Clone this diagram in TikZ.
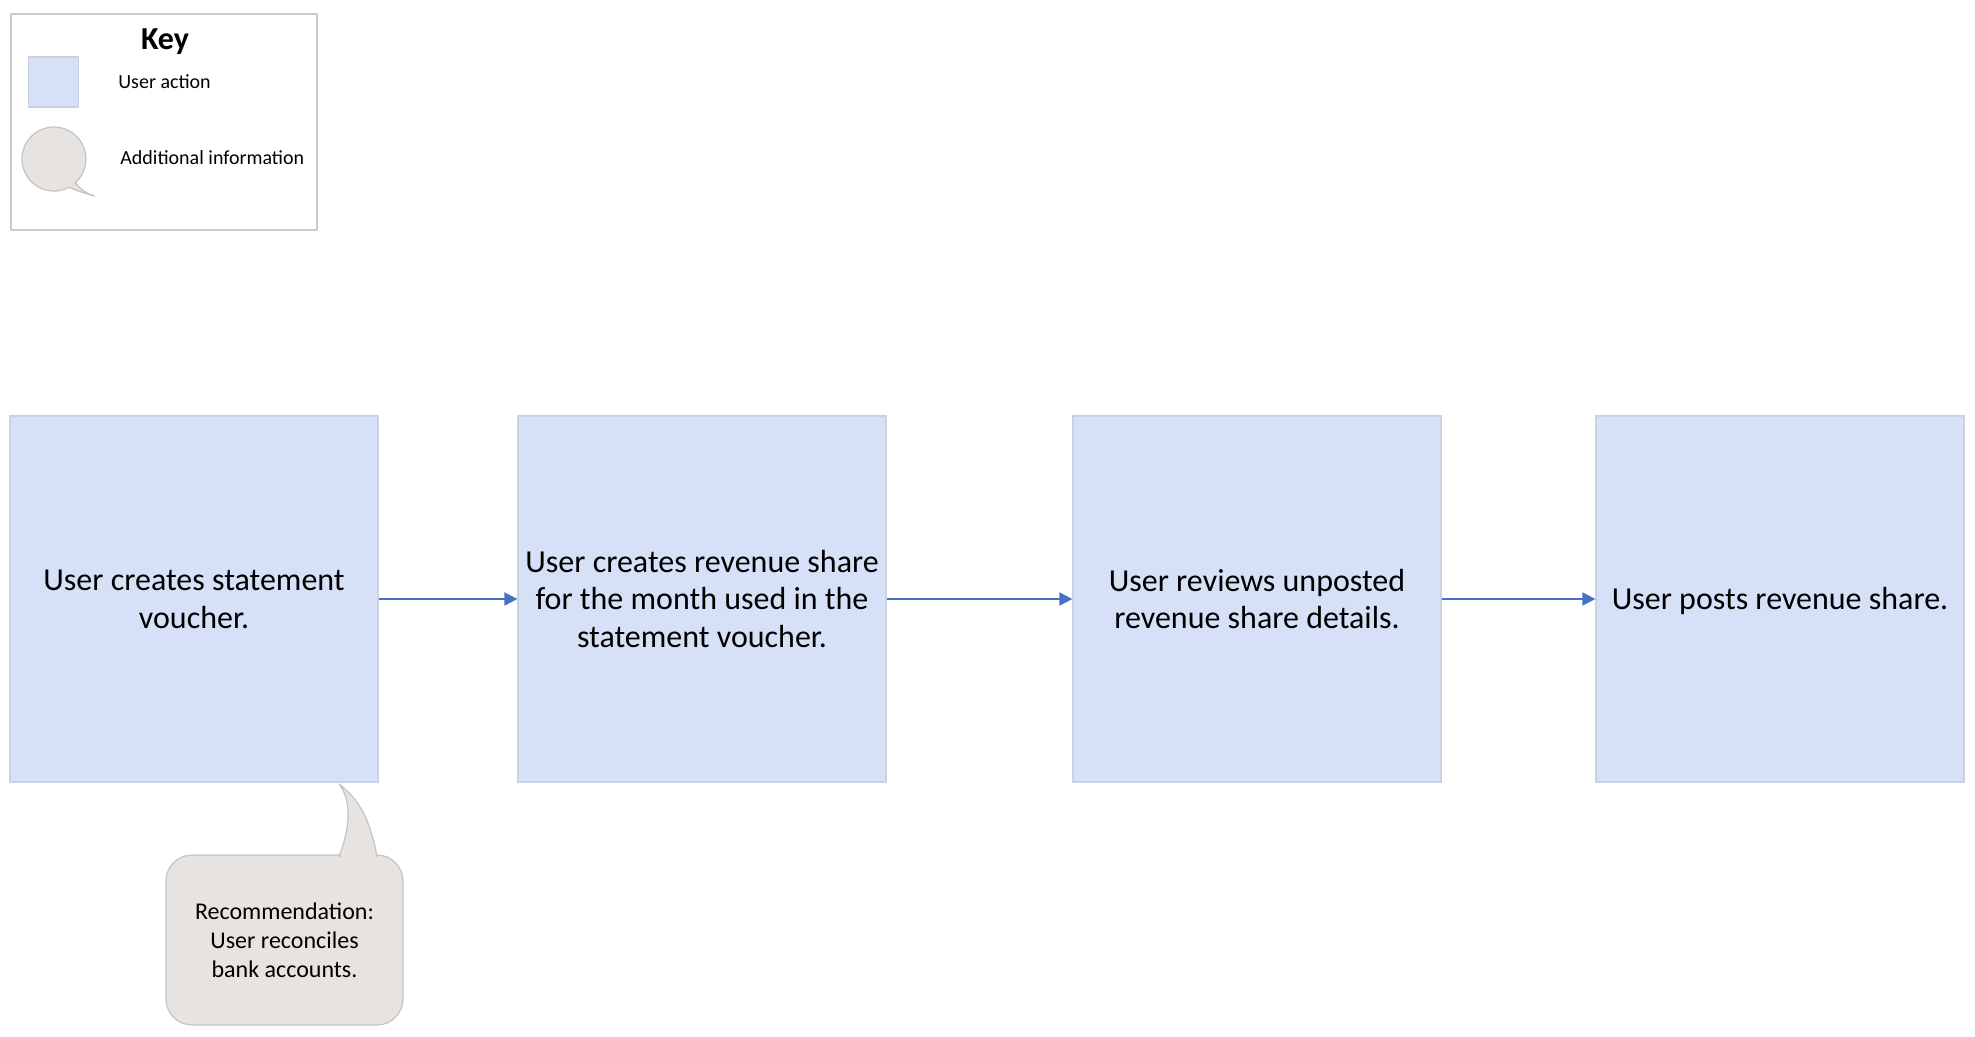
\documentclass[tikz,border=0pt]{standalone}
\usepackage{fontspec}
\setmainfont{Carlito}
\usetikzlibrary{arrows.meta}
\definecolor{actfill}{HTML}{D6E1F7}
\definecolor{actdraw}{HTML}{C9D2E0}
\definecolor{infofill}{HTML}{E6E3E1}
\definecolor{infodraw}{HTML}{C4C4C4}
\definecolor{flow}{HTML}{4472C4}
\definecolor{keydraw}{HTML}{CCCCCC}
\tikzset{
  action/.style={draw=actdraw, fill=actfill, line width=0.6pt, minimum width=184pt, minimum height=183pt, inner sep=0pt, align=center, font=\fontsize{16}{18.9}\selectfont},
  info/.style={draw=infodraw, fill=infofill, line width=0.6pt, rounded corners=13pt, minimum width=118.5pt, minimum height=85pt, align=center, inner sep=0pt, font=\fontsize{12}{14.5}\selectfont},
  flowarrow/.style={draw=flow, line width=0.8pt, -{Triangle[length=6.5pt,width=6.5pt]}},
  legtext/.style={anchor=west, inner sep=0pt, font=\fontsize{10}{12}\selectfont}
}
\begin{document}
\begin{tikzpicture}[x=0.5pt,y=-0.5pt]
\useasboundingbox (0,0) rectangle (1975,1037);
% key
\node[draw=keydraw, line width=0.6pt, minimum width=153pt, minimum height=108pt, inner sep=0pt] (key) at (164,122) {};
\node[font=\fontsize{16}{18}\selectfont\bfseries, inner sep=0pt] (keytitle) at (165,42) {Key};
\node[draw=actdraw, fill=actfill, line width=0.6pt, minimum width=25pt, minimum height=25pt, inner sep=0pt] (legact) at (53.5,82) {};
\node[legtext] (legacttext) at (118,82) {User action};
\path[draw=infodraw, fill=infofill, line width=0.6pt]
  (75.4,182.8) .. controls (81,190) and (87,194) .. (95,196)
  .. controls (87,194) and (77,191) .. (69,187.3)
  arc[start angle=62, end angle=408, radius=32] -- cycle;
\node[legtext] (leginfotext) at (120,158) {Additional information};
% flow
\node[action] (a1) at (194,599) {User creates statement\\voucher.};
\node[action] (a2) at (702,599) {User creates revenue share\\for the month used in the\\statement voucher.};
\node[action] (a3) at (1257,599) {User reviews unposted\\revenue share details.};
\node[action] (a4) at (1780,599) {\raisebox{-1pt}[\height][\depth]{User posts revenue share.}};
\draw[flowarrow] (a1.east) -- (a2.west);
\draw[flowarrow] (a2.east) -- (a3.west);
\draw[flowarrow] (a3.east) -- (a4.west);
% callout
\node[info] (rec) at (284.5,940) {\raisebox{-1.5pt}[\height][\depth]{\begin{tabular}{@{}c@{}}Recommendation:\\User reconciles\\bank accounts.\end{tabular}}};
\coordinate (tip) at (339,784);
\path[draw=infodraw, fill=infofill, line width=0.6pt]
  (tip) .. controls (352,800) and (350,830) .. (339,856)
  -- (377,856) .. controls (370,820) and (360,800) .. (tip);
\draw[draw=infofill, line width=1.2pt] (340.5,855.5) -- (375.5,855.5);
\end{tikzpicture}
\end{document}
